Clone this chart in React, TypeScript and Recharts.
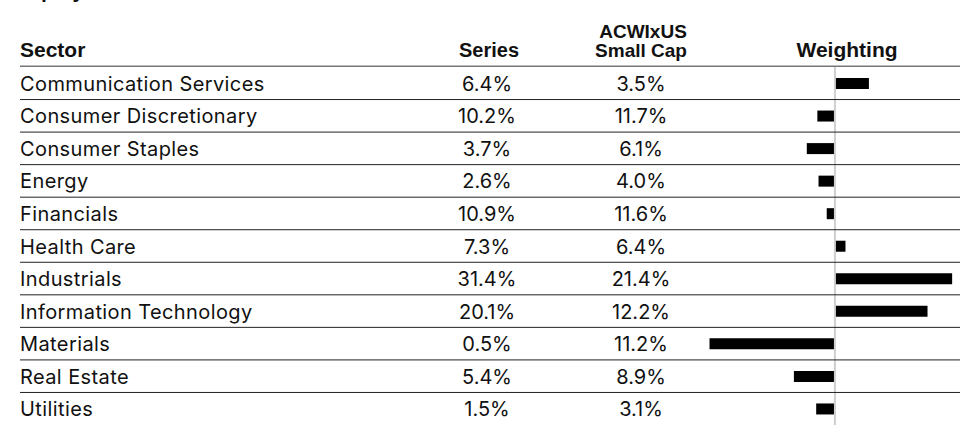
import { BarChart, Bar, XAxis, YAxis, ReferenceLine } from "recharts";

const sectors = [
  "Communication Services",
  "Consumer Discretionary",
  "Consumer Staples",
  "Energy",
  "Financials",
  "Health Care",
  "Industrials",
  "Information Technology",
  "Materials",
  "Real Estate",
  "Utilities",
];
const seriesPct = [6.4, 10.2, 3.7, 2.6, 10.9, 7.3, 31.4, 20.1, 0.5, 5.4, 1.5];
const benchPct = [3.5, 11.7, 6.1, 4.0, 11.6, 6.4, 21.4, 12.2, 11.2, 8.9, 3.1];

const data = sectors.map((s, i) => ({
  sector: s,
  series: seriesPct[i],
  bench: benchPct[i],
  diff: +(seriesPct[i] - benchPct[i]).toFixed(1),
}));

const W = 963;
const H = 426;
const TOP = 67;
const ROW = (H - 1 - TOP) / sectors.length;
const bodyFont = "Inter, 'Noto Sans', sans-serif";
const headFont = "'Liberation Sans', Arial, sans-serif";

function RowTick(props: any) {
  const { y, payload } = props;
  const i = payload.index;
  const base = y + 7.5;
  return (
    <g>
      <text x={20} y={base} fontFamily={bodyFont} fontSize={20} letterSpacing={0.4} fill="#111">
        {sectors[i]}
      </text>
      <text x={487} y={base} textAnchor="middle" fontFamily={bodyFont} fontSize={20} fill="#111">
        {seriesPct[i].toFixed(1)}%
      </text>
      <text x={641} y={base} textAnchor="middle" fontFamily={bodyFont} fontSize={20} fill="#111">
        {benchPct[i].toFixed(1)}%
      </text>
      {i < sectors.length - 1 && (
        <line x1={20} x2={960} y1={y + ROW / 2} y2={y + ROW / 2} stroke="#222" strokeWidth={1} />
      )}
    </g>
  );
}

export default function App() {
  return (
    <div style={{ position: "absolute", left: 0, top: 0, width: W, height: H, background: "#fff" }}>
      <svg width={W} height={TOP} style={{ position: "absolute", left: 0, top: 0 }}>
        <text x={20} y={-2} fontFamily={headFont} fontWeight="bold" fontSize={21} fill="#111">
          Equity
        </text>
        <text x={20} y={57} fontFamily={headFont} fontWeight="bold" fontSize={21} fill="#111">
          Sector
        </text>
        <text x={489} y={57} textAnchor="middle" fontFamily={headFont} fontWeight="bold" fontSize={20} fill="#111">
          Series
        </text>
        <text x={643} y={38} textAnchor="middle" fontFamily={headFont} fontWeight="bold" fontSize={19} fill="#111">
          ACWIxUS
        </text>
        <text x={641} y={57} textAnchor="middle" fontFamily={headFont} fontWeight="bold" fontSize={19} fill="#111">
          Small Cap
        </text>
        <text x={847} y={57} textAnchor="middle" fontFamily={headFont} fontWeight="bold" fontSize={21} fill="#111">
          Weighting
        </text>
        <line x1={20} x2={960} y1={66.5} y2={66.5} stroke="#777" strokeWidth={2} />
      </svg>
      <BarChart
        width={W}
        height={H}
        data={data}
        layout="vertical"
        margin={{ top: TOP, right: 5, bottom: 1, left: 0 }}
        barCategoryGap={0}
      >
        <XAxis type="number" domain={[-11, 10.5]} hide />
        <YAxis
          type="category"
          dataKey="sector"
          width={706}
          axisLine={false}
          tickLine={false}
          interval={0}
          tick={<RowTick />}
        />
        <ReferenceLine x={0} stroke="#cfcfcf" strokeWidth={2} ifOverflow="extendDomain" />
        <Bar dataKey="diff" fill="#000" barSize={11} isAnimationActive={false} />
      </BarChart>
    </div>
  );
}
